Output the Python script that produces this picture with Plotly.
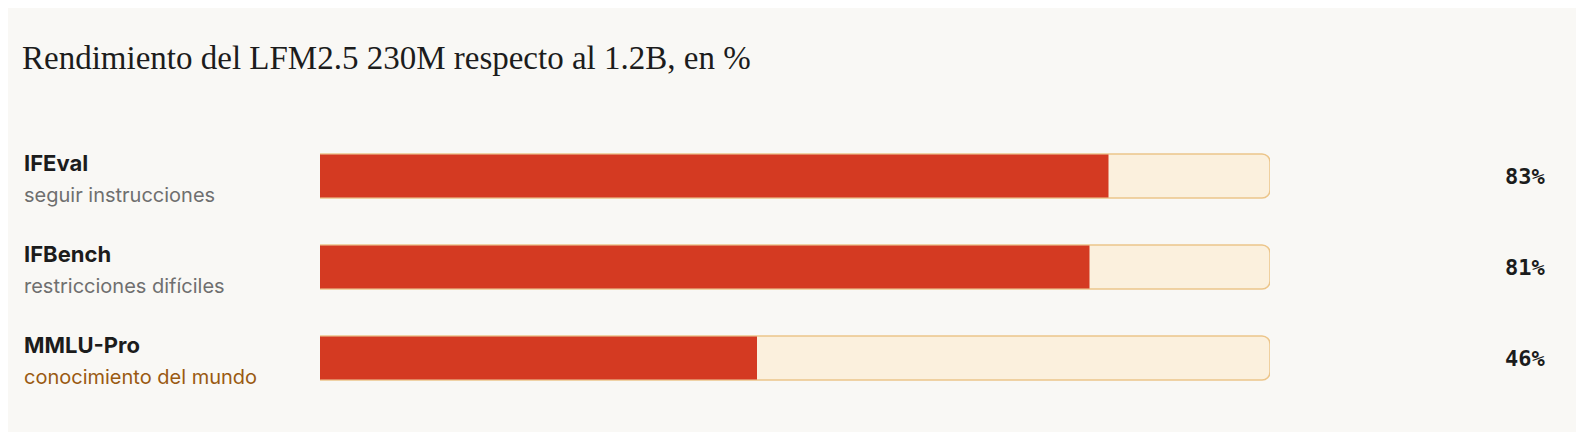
import plotly.graph_objects as go

names = ["IFEval", "IFBench", "MMLU-Pro"]
subtitles = ["seguir instrucciones", "restricciones difíciles", "conocimiento del mundo"]
values = [83, 81, 46]
track = [100, 100, 100]
sub_colors = ["#6f6f6f", "#6f6f6f", "#9a5a12"]

OFF = 8
W, H = 1584 - 2 * OFF, 440 - 2 * OFF
def px(x): return (x - OFF) / W
ys = list(range(len(names)))
fig = go.Figure()
fig.add_trace(go.Bar(x=track, y=ys, orientation="h", width=0.484,
                     marker=dict(color="#fbf0dd", line=dict(color="#ecc58a", width=1.5)),
                     hoverinfo="skip"))
fig.add_trace(go.Bar(x=values, y=ys, orientation="h", width=0.47,
                     marker=dict(color="#d43a22", line=dict(width=0)),
                     hoverinfo="skip"))

ann = []
for i, (n, s, v, c) in enumerate(zip(names, subtitles, values, sub_colors)):
    ann.append(dict(x=px(22), xref="paper", y=i, yref="y", yshift=13, text=f"<b>{n}</b>",
                    showarrow=False, xanchor="left", yanchor="middle",
                    font=dict(family="Inter", size=22, color="#1c1c1c")))
    ann.append(dict(x=px(22), xref="paper", y=i, yref="y", yshift=-19, text=s,
                    showarrow=False, xanchor="left", yanchor="middle",
                    font=dict(family="Inter", size=20, color=c)))
    ann.append(dict(x=px(1547), xref="paper", y=i, yref="y", text=f"<b>{v}%</b>",
                    showarrow=False, xanchor="right", yanchor="middle",
                    font=dict(family="DejaVu Sans Mono", size=22, color="#1c1c1c")))
ann.append(dict(x=px(20), xref="paper", y=1 - (58 - OFF) / H, yref="paper",
                text="Rendimiento del LFM2.5 230M respecto al 1.2B, en %",
                showarrow=False, xanchor="left", yanchor="middle",
                font=dict(family="Liberation Serif", size=33, color="#1c1c1c")))

fig.update_layout(
    width=W, height=H, margin=dict(l=0, r=0, t=0, b=0),
    paper_bgcolor="#f9f8f5", plot_bgcolor="#f9f8f5",
    barmode="overlay", barcornerradius=8, showlegend=False,
    xaxis=dict(domain=[px(320), px(1270)], range=[0, 100], visible=False, fixedrange=True),
    yaxis=dict(domain=[0, 1], range=[(H - (176 - OFF)) / 91, -(176 - OFF) / 91],
               visible=False, fixedrange=True),
    annotations=ann,
)
fig.write_html("out.html")
